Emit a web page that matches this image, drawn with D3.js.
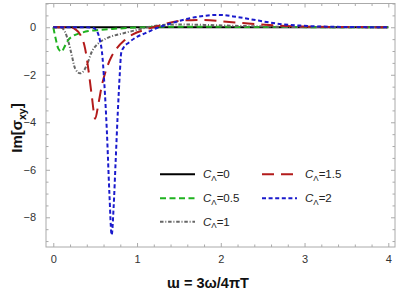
<!DOCTYPE html>
<html>
<head>
<meta charset="utf-8">
<script src="https://cdn.jsdelivr.net/npm/d3@7"></script>
<style>
  body { margin: 0; background: #fff; }
  svg { display: block; font-family: "Liberation Sans", Arial, sans-serif; }
  .tick text { fill: #333; font-size: 11px; }
  .domain { display: none; }
</style>
</head>
<body>
<div id="chart"></div>
<script>
// series: w = 3ω/4πT, value = Im[σxy]
const wC0 = [0, 4]
const imC0 = [0, 0]

const wC05 = [0, 0.03, 0.06, 0.1, 0.13, 0.18, 0.24, 0.32, 0.42, 0.56, 0.7, 0.84, 1.0, 1.3, 1.8, 2.5, 4]
const imC05 = [0, -0.5, -0.9, -1.03, -0.85, -0.53, -0.36, -0.25, -0.16, -0.11, -0.07, -0.04, -0.01, 0.02, 0.02, 0.01, 0]

const wC1 = [0, 0.1, 0.14, 0.18, 0.22, 0.26, 0.32, 0.36, 0.4, 0.46, 0.54, 0.64, 0.84, 1.0, 1.1, 1.25, 1.45, 1.8, 2.3, 3, 4]
const imC1 = [0, -0.02, -0.2, -0.6, -1.17, -1.73, -1.94, -1.85, -1.59, -1.03, -0.67, -0.46, -0.25, -0.11, -0.02, 0.08, 0.12, 0.1, 0.05, 0.01, 0]

const wC15 = [0, 0.2, 0.26, 0.32, 0.38, 0.42, 0.46, 0.5, 0.54, 0.58, 0.64, 0.7, 0.76, 0.85, 0.95, 1.1, 1.25, 1.5, 1.75, 2.1, 2.4, 2.7, 3.0, 3.5, 4]
const imC15 = [0, 0, -0.08, -0.3, -0.9, -1.8, -2.9, -3.85, -3.2, -2.45, -1.7, -1.2, -0.88, -0.55, -0.3, -0.1, 0.05, 0.27, 0.31, 0.22, 0.14, 0.07, 0.03, 0.01, 0]

const wC2 = [0, 0.4, 0.48, 0.52, 0.56, 0.58, 0.61, 0.64, 0.67, 0.697, 0.72, 0.745, 0.77, 0.795, 0.81, 0.84, 0.9, 1.0, 1.1, 1.23, 1.43, 1.63, 1.8, 1.97, 2.2, 2.45, 2.7, 2.95, 3.2, 3.6, 4]
const imC2 = [0, 0, -0.03, -0.15, -0.6, -1.0, -2.4, -4.4, -7.0, -8.75, -7.6, -5.6, -3.6, -1.9, -1.1, -0.85, -0.65, -0.4, -0.25, -0.04, 0.19, 0.38, 0.48, 0.52, 0.43, 0.28, 0.14, 0.07, 0.03, 0.01, 0]

const seriesLabels = ["0", "0.5", "1", "1.5", "2"]
const xTicks = [0, 1, 2, 3, 4]
const yTicks = [-8, -6, -4, -2, 0]

const series = [
  { label: seriesLabels[0], w: wC0, im: imC0, color: "#000000", dash: null, width: 2 },
  { label: seriesLabels[1], w: wC05, im: imC05, color: "#1fb21f", dash: "6,3.5", width: 2 },
  { label: seriesLabels[2], w: wC1, im: imC1, color: "#666666", dash: "3.5,1.8,1,1.8", width: 2 },
  { label: seriesLabels[3], w: wC15, im: imC15, color: "#b31b1b", dash: "12,7", width: 2 },
  { label: seriesLabels[4], w: wC2, im: imC2, color: "#1a1acc", dash: "4,2.6", width: 2 }
]

const width = 399
const height = 292
const frame = { left: 46, right: 395, top: 3.5, bottom: 247 }

const svg = d3.select("#chart").append("svg")
    .attr("width", width)
    .attr("height", height)

const xScale = d3.scaleLinear()
  .domain([-0.087, 4.08])
  .range([frame.left, frame.right])

const yScale = d3.scaleLinear()
  .domain([1.0, -9.25])
  .range([frame.top, frame.bottom])

const xMinor = d3.range(0, 4.01, 0.2).filter(d => Math.abs(d - Math.round(d)) > 1e-6)
const yMinor = d3.range(-9, 1.01, 0.5).filter(d => Math.abs(d / 2 - Math.round(d / 2)) > 1e-6)

// curves (clipped to the frame)
svg.append("clipPath").attr("id", "clip")
  .append("rect")
    .attr("x", frame.left)
    .attr("y", frame.top)
    .attr("width", frame.right - frame.left)
    .attr("height", frame.bottom - frame.top)

const lineGen = d3.line()
  .x(d => xScale(d[0]))
  .y(d => yScale(d[1]))
  .curve(d3.curveMonotoneX)

const plot = svg.append("g").attr("clip-path", "url(#clip)")
series.forEach(s => {
  plot.append("path")
      .datum(d3.zip(s.w, s.im))
      .attr("d", lineGen)
      .attr("fill", "none")
      .attr("stroke", s.color)
      .attr("stroke-width", s.width)
      .attr("stroke-dasharray", s.dash)
})

// frame
svg.append("rect")
    .attr("x", frame.left)
    .attr("y", frame.top)
    .attr("width", frame.right - frame.left)
    .attr("height", frame.bottom - frame.top)
    .attr("fill", "none")
    .attr("stroke", "#aaaaaa")
    .attr("stroke-width", 1)

const tickColor = "#aaaaaa"
function styleTicks(g) {
  g.selectAll(".tick line").attr("stroke", tickColor)
}

// bottom
svg.append("g")
    .attr("transform", `translate(0,${frame.bottom})`)
    .call(d3.axisBottom(xScale).tickValues(xTicks).tickSize(-4).tickPadding(8).tickFormat(d3.format("d")))
    .call(styleTicks)
svg.append("g")
    .attr("transform", `translate(0,${frame.bottom})`)
    .call(d3.axisBottom(xScale).tickValues(xMinor).tickSize(-2.5).tickFormat(""))
    .call(styleTicks)
// top
svg.append("g")
    .attr("transform", `translate(0,${frame.top})`)
    .call(d3.axisTop(xScale).tickValues(xTicks).tickSize(-4).tickFormat(""))
    .call(styleTicks)
svg.append("g")
    .attr("transform", `translate(0,${frame.top})`)
    .call(d3.axisTop(xScale).tickValues(xMinor).tickSize(-2.5).tickFormat(""))
    .call(styleTicks)
// left
svg.append("g")
    .attr("transform", `translate(${frame.left},0)`)
    .call(d3.axisLeft(yScale).tickValues(yTicks).tickSize(-4).tickPadding(10).tickFormat(d => d < 0 ? "\u2212" + Math.abs(d) : d))
    .call(styleTicks)
svg.append("g")
    .attr("transform", `translate(${frame.left},0)`)
    .call(d3.axisLeft(yScale).tickValues(yMinor).tickSize(-2.5).tickFormat(""))
    .call(styleTicks)
// right
svg.append("g")
    .attr("transform", `translate(${frame.right},0)`)
    .call(d3.axisRight(yScale).tickValues(yTicks).tickSize(-4).tickFormat(""))
    .call(styleTicks)
svg.append("g")
    .attr("transform", `translate(${frame.right},0)`)
    .call(d3.axisRight(yScale).tickValues(yMinor).tickSize(-2.5).tickFormat(""))
    .call(styleTicks)

// axis labels
svg.append("text")
    .attr("x", 208)
    .attr("y", 288)
    .attr("text-anchor", "middle")
    .attr("font-size", 14.5)
    .attr("font-weight", "bold")
    .attr("fill", "#111")
    .text("\u026F = 3\u03C9/4\u03C0T")

const yLabel = svg.append("text")
    .attr("transform", "translate(22,128) rotate(-90)")
    .attr("text-anchor", "middle")
    .attr("font-size", 15)
    .attr("font-weight", "bold")
    .attr("fill", "#111")
yLabel.append("tspan").text("Im[\u03C3")
yLabel.append("tspan").attr("font-size", 10.5).attr("dy", 4).text("xy")
yLabel.append("tspan").attr("dy", -4).text("]")

// legend
const legendPos = [
  { x: 160, y: 174.3 },
  { x: 160, y: 198.3 },
  { x: 160, y: 221.7 },
  { x: 262, y: 174.3 },
  { x: 262, y: 198.3 }
]

const legend = svg.append("g")
series.forEach((s, i) => {
  const p = legendPos[i]
  const item = legend.append("g").attr("transform", `translate(${p.x},${p.y})`)
  item.append("line")
      .attr("x1", 0)
      .attr("x2", 35)
      .attr("stroke", s.color)
      .attr("stroke-width", 2)
      .attr("stroke-dasharray", s.dash)
  const t = item.append("text")
      .attr("x", 43)
      .attr("y", 4)
      .attr("font-size", 11.5)
      .attr("fill", "#222")
  t.append("tspan").attr("font-style", "italic").text("C")
  t.append("tspan").attr("font-size", 8).attr("dy", 2.5).text("\u039B")
  t.append("tspan").attr("dy", -2.5).text("=" + s.label)
})
</script>
</body>
</html>
